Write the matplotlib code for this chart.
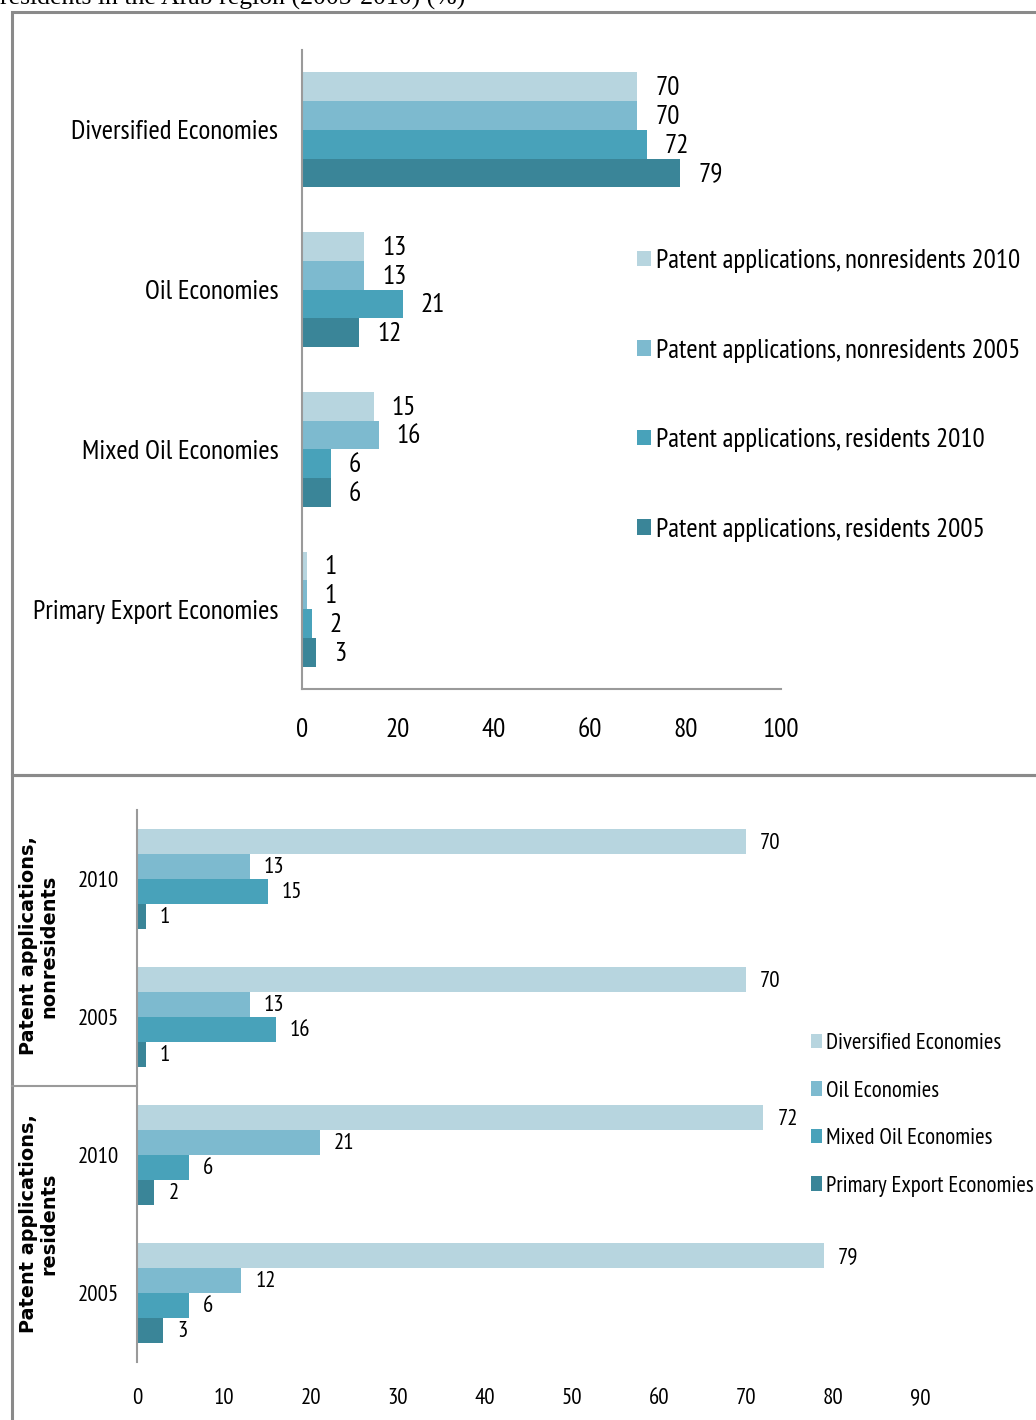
import matplotlib
matplotlib.use('Agg')
import matplotlib.pyplot as plt
from matplotlib.patches import Rectangle
from matplotlib.lines import Line2D
import numpy as np

W, H = 1036, 1420

# ---------------- data ----------------
categories = ['Diversified Economies', 'Oil Economies', 'Mixed Oil Economies', 'Primary Export Economies']
series = ['Patent applications, nonresidents 2010', 'Patent applications, nonresidents 2005',
          'Patent applications, residents 2010', 'Patent applications, residents 2005']
nonres_2010 = [70, 13, 15, 1]
nonres_2005 = [70, 13, 16, 1]
res_2010 = [72, 21, 6, 2]
res_2005 = [79, 12, 6, 3]
top_ticks = [0, 20, 40, 60, 80, 100]
bottom_ticks = [0, 10, 20, 30, 40, 50, 60, 70, 80, 90]
year_labels = ['2010', '2005', '2010', '2005']
group_labels = ['Patent applications,\nnonresidents', 'Patent applications,\nresidents']
title_text = 'residents in the Arab region (2005-2010) (%)'

colors = ['#B7D5DF', '#7DBACF', '#48A2BA', '#3A8598']
FONT = ['PT Sans Narrow', 'Liberation Sans', 'DejaVu Sans']
plt.rcParams['font.family'] = FONT
SPINE = '#9a9a9a'
FS_TOP = 19.5
FS_BOT = 16.5


def fig_rect(x0, y0, x1, y1):
    return [x0 / W, 1 - y1 / H, (x1 - x0) / W, (y1 - y0) / H]


fig = plt.figure(figsize=(W / 100, H / 100), dpi=100)

# title fragment (cut at top)
fig.text(0 / W, 1 - 5 / H, title_text, family=['Liberation Serif', 'DejaVu Serif'],
         fontsize=18.5, va='baseline', ha='left', color='black')

# frames
fig.add_artist(Rectangle((12 / W, 1 - 775 / H), 1040 / W, (775 - 12) / H, transform=fig.transFigure,
                         fill=False, ec='#8a8a8a', lw=2.2))
fig.add_artist(Rectangle((12 / W, 1 - 1440 / H), 1040 / W, (1440 - 775) / H, transform=fig.transFigure,
                         fill=False, ec='#8a8a8a', lw=2.2))

# ---------------- top chart ----------------
top_vals = [nonres_2010, nonres_2005, res_2010, res_2005]
ax1 = fig.add_axes(fig_rect(302, 50, 781, 689))
h = 0.18
y = np.arange(len(categories))
for j, (vals, lab) in enumerate(zip(top_vals, series)):
    pos = y + (j - 1.5) * h
    ax1.barh(pos, vals, height=h, color=colors[j], label=lab)
    for p, v in zip(pos, vals):
        ax1.annotate(str(v), (v, p), xytext=(13, -1), textcoords='offset points',
                     va='center', ha='left', fontsize=FS_TOP, color='black')
ax1.set_xlim(0, 100)
ax1.set_ylim(3.5, -0.5)
ax1.set_xticks(top_ticks)
ax1.set_xticklabels([str(t) for t in top_ticks])
ax1.set_yticks(y)
ax1.set_yticklabels(categories)
ax1.tick_params(axis='both', length=0, labelsize=FS_TOP)
ax1.tick_params(axis='x', pad=21)
ax1.tick_params(axis='y', pad=17)
for s in ['top', 'right']:
    ax1.spines[s].set_visible(False)
for s in ['left', 'bottom']:
    ax1.spines[s].set_color(SPINE)
    ax1.spines[s].set_linewidth(1.5)
ax1.legend(loc='upper left', bbox_to_anchor=(637 / W, 1 - 249 / H), bbox_transform=fig.transFigure,
           frameon=False, fontsize=FS_TOP, borderpad=0, borderaxespad=0, labelspacing=2.42,
           handlelength=0.52, handleheight=0.52, handletextpad=0.2)

# ---------------- bottom chart ----------------
ax2 = fig.add_axes(fig_rect(137, 810, 1007, 1362))
yb = np.arange(len(series))
cat_vals = [[row[i] for row in top_vals] for i in range(len(categories))]
for i, (vals, lab) in enumerate(zip(cat_vals, categories)):
    pos = yb + (i - 1.5) * h
    ax2.barh(pos, vals, height=h, color=colors[i], label=lab)
    for p, v in zip(pos, vals):
        ax2.annotate(str(v), (v, p), xytext=(10, -1), textcoords='offset points',
                     va='center', ha='left', fontsize=FS_BOT, color='black')
ax2.set_xlim(0, 100)
ax2.set_ylim(3.5, -0.5)
ax2.set_xticks(bottom_ticks)
ax2.set_xticklabels([str(t) for t in bottom_ticks])
ax2.set_yticks(yb)
ax2.set_yticklabels(year_labels)
ax2.tick_params(axis='both', length=0, labelsize=FS_BOT)
ax2.tick_params(axis='x', pad=19)
ax2.tick_params(axis='y', pad=13)
for s in ['top', 'right', 'bottom']:
    ax2.spines[s].set_visible(False)
ax2.spines['left'].set_color(SPINE)
ax2.spines['left'].set_linewidth(1.5)
ax2.legend(loc='upper left', bbox_to_anchor=(811 / W, 1 - 1033 / H), bbox_transform=fig.transFigure,
           frameon=False, fontsize=FS_BOT, borderpad=0, borderaxespad=0, labelspacing=1.16,
           handlelength=0.47, handleheight=0.6, handletextpad=0.18)

# group separator and group labels
fig.add_artist(Line2D([12 / W, 137 / W], [1 - 1086 / H, 1 - 1086 / H], transform=fig.transFigure,
                      color=SPINE, lw=1.5))
for gl, yc in zip(group_labels, [946, 1224]):
    fig.text(39 / W, 1 - yc / H, gl, rotation=90, ha='center', va='center', ma='center',
             family=['DejaVu Sans'], fontsize=13.9, fontweight='bold',
             linespacing=1.07)

fig.savefig('out.png', dpi=100)
